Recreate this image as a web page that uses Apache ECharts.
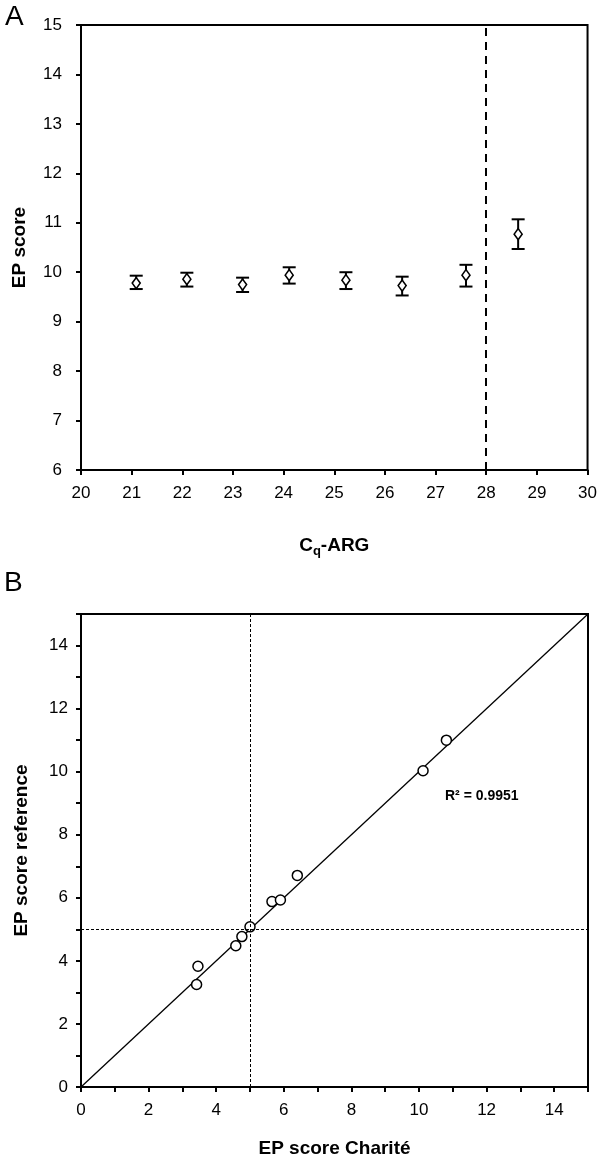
<!DOCTYPE html>
<html>
<head>
<meta charset="utf-8">
<script src="https://cdn.jsdelivr.net/npm/echarts@6/dist/echarts.min.js"></script>
<style>html,body{margin:0;padding:0;background:#fff}#c{width:600px;height:1168px}</style>
</head>
<body>
<div id="c"></div>
<script>
// Panel A: EP score vs Cq-ARG (mean with error bars)
const cqValues = [21.09, 22.09, 23.19, 24.11, 25.23, 26.34, 27.60, 28.63];
const epMeans  = [9.78, 9.86, 9.75, 9.94, 9.84, 9.73, 9.94, 10.77];
const epLow    = [9.66, 9.71, 9.60, 9.77, 9.66, 9.53, 9.71, 10.47];
const epHigh   = [9.93, 9.99, 9.89, 10.10, 10.00, 9.91, 10.15, 11.07];
const cqCutoff = 28;

// Panel B: EP score Charité vs reference
const charite   = [3.46, 3.42, 4.58, 4.76, 5.00, 5.65, 5.90, 6.40, 10.12, 10.81];
const reference = [3.83, 3.25, 4.48, 4.77, 5.08, 5.88, 5.93, 6.71, 10.03, 11.00];
const identityLine = [[0, 0], [15, 15]];
const epThreshold = 5;
const rSquaredText = 'R² = 0.9951';

const FONT = '"Liberation Sans", Arial, Helvetica, sans-serif';
const chart = echarts.init(document.getElementById('c'), null, {renderer: 'canvas'});

const axisCommon = {
  axisLine: {show: true, lineStyle: {color: '#000', width: 2}},
  axisTick: {show: true, inside: false, length: 5, lineStyle: {color: '#000', width: 2}},
  splitLine: {show: false},
  axisLabel: {color: '#000', fontFamily: FONT, fontSize: 17},
  nameTextStyle: {color: '#000', fontFamily: FONT, fontSize: 19, fontWeight: 'bold'}
};

const pointsA = cqValues.map((x, i) => [x, epMeans[i]]);
const barsA = cqValues.map((x, i) => [x, epLow[i], epHigh[i]]);
const pointsB = charite.map((x, i) => [x, reference[i]]);
const evenLabel = v => (v % 2 === 0 && v < 15) ? String(v) : '';

chart.setOption({
  animation: false,
  backgroundColor: '#fff',
  grid: [
    {left: 81, top: 25, width: 507, height: 445, show: true, borderColor: '#000', borderWidth: 2, backgroundColor: 'transparent'},
    {left: 81, top: 614, width: 507, height: 473, show: true, borderColor: '#000', borderWidth: 2, backgroundColor: 'transparent'}
  ],
  xAxis: [
    Object.assign({}, axisCommon, {
      gridIndex: 0, type: 'value', min: 20, max: 30, interval: 1,
      name: '{b|C}{s|q}{b|-ARG}', nameLocation: 'middle', nameGap: 64,
      nameTextStyle: {rich: {
        b: {fontFamily: FONT, fontSize: 19, fontWeight: 'bold', color: '#000'},
        s: {fontFamily: FONT, fontSize: 13, fontWeight: 'bold', color: '#000', padding: [11, 0, 0, 0]}
      }},
      axisLabel: Object.assign({}, axisCommon.axisLabel, {margin: 15})
    }),
    Object.assign({}, axisCommon, {
      gridIndex: 1, type: 'value', min: 0, max: 15, interval: 1,
      name: 'EP score Charité', nameLocation: 'middle', nameGap: 52,
      axisLabel: Object.assign({}, axisCommon.axisLabel, {margin: 15, formatter: evenLabel})
    })
  ],
  yAxis: [
    Object.assign({}, axisCommon, {
      gridIndex: 0, type: 'value', min: 6, max: 15, interval: 1,
      name: 'EP score', nameLocation: 'middle', nameGap: 52,
      axisLabel: Object.assign({}, axisCommon.axisLabel, {margin: 19})
    }),
    Object.assign({}, axisCommon, {
      gridIndex: 1, type: 'value', min: 0, max: 15, interval: 1,
      name: 'EP score reference', nameLocation: 'middle', nameGap: 50,
      axisLabel: Object.assign({}, axisCommon.axisLabel, {margin: 13, formatter: evenLabel})
    })
  ],
  graphic: [
    {type: 'text', left: 5, top: 3, style: {text: 'A', font: '28px ' + FONT, fill: '#000'}},
    {type: 'text', left: 4, top: 569, style: {text: 'B', font: '28px ' + FONT, fill: '#000'}},
    {type: 'text', left: 445, top: 789, style: {text: rSquaredText, font: 'bold 14px ' + FONT, fill: '#000'}}
  ],
  series: [
    {
      type: 'custom', xAxisIndex: 0, yAxisIndex: 0, data: barsA, z: 3,
      renderItem: function (params, api) {
        const x = api.value(0);
        const lo = api.coord([x, api.value(1)]);
        const hi = api.coord([x, api.value(2)]);
        const hw = 6.5;
        const st = {stroke: '#000', lineWidth: 2};
        return {type: 'group', children: [
          {type: 'line', shape: {x1: lo[0], y1: lo[1], x2: hi[0], y2: hi[1]}, style: st},
          {type: 'line', shape: {x1: lo[0] - hw, y1: lo[1], x2: lo[0] + hw, y2: lo[1]}, style: st},
          {type: 'line', shape: {x1: hi[0] - hw, y1: hi[1], x2: hi[0] + hw, y2: hi[1]}, style: st}
        ]};
      }
    },
    {
      type: 'scatter', xAxisIndex: 0, yAxisIndex: 0, data: pointsA, z: 4,
      symbol: 'diamond', symbolSize: [8, 11],
      itemStyle: {color: '#fff', borderColor: '#000', borderWidth: 1.6, opacity: 1},
      markLine: {
        silent: true, symbol: 'none', label: {show: false},
        lineStyle: {color: '#000', width: 2, type: [8, 6]},
        data: [{xAxis: cqCutoff}]
      }
    },
    {
      type: 'line', xAxisIndex: 1, yAxisIndex: 1, data: identityLine, z: 2,
      symbol: 'none', lineStyle: {color: '#000', width: 1.3},
      markLine: {
        silent: true, symbol: 'none', label: {show: false},
        lineStyle: {color: '#000', width: 1, type: [3, 2]},
        data: [{xAxis: epThreshold}, {yAxis: epThreshold}]
      }
    },
    {
      type: 'scatter', xAxisIndex: 1, yAxisIndex: 1, data: pointsB, z: 4,
      symbol: 'circle', symbolSize: 10,
      itemStyle: {color: '#fff', borderColor: '#000', borderWidth: 1.5, opacity: 1}
    }
  ]
});
</script>
</body>
</html>
